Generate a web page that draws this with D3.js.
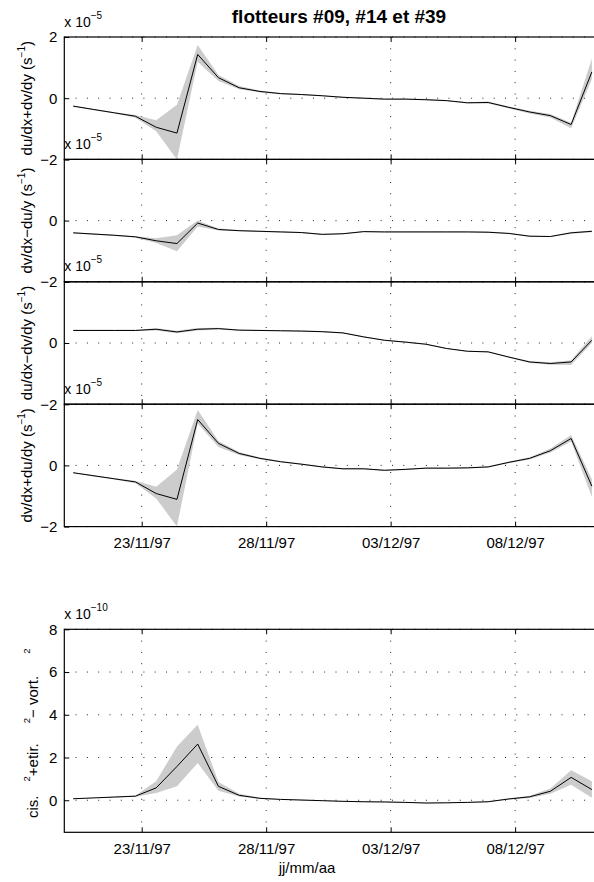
<!DOCTYPE html>
<html><head><meta charset="utf-8">
<script src="https://cdn.jsdelivr.net/npm/d3@7"></script>
<style>
body{margin:0;background:#fff}
svg{display:block}
text{font-family:"Liberation Sans",Arial,Helvetica,sans-serif;fill:#000}
</style>
</head><body>
<svg id="c" width="594" height="882"></svg>
<script>
// ---- data ----
const dates = ["1997-11-20T06:00Z","1997-11-21T02:00Z","1997-11-21T22:00Z","1997-11-22T18:00Z",
 "1997-11-23T14:00Z","1997-11-24T10:00Z","1997-11-25T06:00Z","1997-11-26T02:00Z","1997-11-26T22:00Z",
 "1997-11-27T18:00Z","1997-11-28T14:00Z","1997-11-29T10:00Z","1997-11-30T06:00Z","1997-12-01T02:00Z",
 "1997-12-01T22:00Z","1997-12-02T18:00Z","1997-12-03T14:00Z","1997-12-04T10:00Z","1997-12-05T06:00Z",
 "1997-12-06T02:00Z","1997-12-06T22:00Z","1997-12-07T18:00Z","1997-12-08T14:00Z","1997-12-09T10:00Z",
 "1997-12-10T06:00Z","1997-12-11T02:00Z"];
const xTickDates = ["1997-11-23T00:00Z","1997-11-28T00:00Z","1997-12-03T00:00Z","1997-12-08T00:00Z"];
const xDomainDates = ["1997-11-19T21:24Z","1997-12-11T23:20Z"];

// panel 1 : du/dx+dv/dy (x1e-5)
const divLine = [-0.26,-0.37,-0.48,-0.59,-0.95,-1.14,1.43,0.67,0.34,0.22,0.15,0.12,0.08,0.03,0.00,-0.03,-0.03,-0.05,-0.08,-0.15,-0.14,-0.30,-0.45,-0.57,-0.86,0.86];
const divLow  = [-0.28,-0.39,-0.50,-0.64,-1.08,-2.00,1.19,0.56,0.29,0.19,0.13,0.10,0.06,0.01,-0.02,-0.05,-0.05,-0.07,-0.10,-0.17,-0.17,-0.34,-0.50,-0.63,-0.98,0.62];
const divHigh = [-0.24,-0.35,-0.46,-0.55,-0.72,-0.21,1.74,0.76,0.40,0.25,0.17,0.14,0.10,0.05,0.02,-0.01,-0.01,-0.03,-0.06,-0.13,-0.11,-0.27,-0.41,-0.52,-0.80,1.30];
// panel 2 : dv/dx-du/y
const rotLine = [-0.40,-0.44,-0.48,-0.53,-0.66,-0.75,-0.08,-0.29,-0.33,-0.35,-0.37,-0.39,-0.45,-0.43,-0.36,-0.37,-0.37,-0.37,-0.37,-0.37,-0.38,-0.42,-0.51,-0.52,-0.40,-0.35];
const rotLow  = [-0.42,-0.46,-0.50,-0.56,-0.73,-1.00,-0.19,-0.32,-0.35,-0.37,-0.39,-0.41,-0.47,-0.45,-0.38,-0.39,-0.39,-0.39,-0.39,-0.39,-0.40,-0.44,-0.53,-0.54,-0.43,-0.38];
const rotHigh = [-0.38,-0.42,-0.46,-0.51,-0.58,-0.48,0.00,-0.26,-0.31,-0.33,-0.35,-0.37,-0.43,-0.41,-0.34,-0.35,-0.35,-0.35,-0.35,-0.35,-0.36,-0.40,-0.49,-0.50,-0.37,-0.32];
// panel 3 : du/dx-dv/dy
const strLine = [0.41,0.41,0.41,0.41,0.45,0.36,0.45,0.47,0.42,0.41,0.40,0.39,0.37,0.33,0.20,0.09,0.03,-0.04,-0.18,-0.27,-0.29,-0.46,-0.62,-0.67,-0.62,0.09];
const strLow  = [0.39,0.39,0.39,0.39,0.41,0.32,0.41,0.44,0.40,0.39,0.38,0.37,0.35,0.31,0.18,0.07,0.01,-0.06,-0.20,-0.29,-0.31,-0.48,-0.65,-0.71,-0.72,0.00];
const strHigh = [0.43,0.43,0.43,0.43,0.48,0.40,0.49,0.50,0.44,0.43,0.42,0.41,0.39,0.35,0.22,0.11,0.05,-0.02,-0.16,-0.25,-0.27,-0.44,-0.59,-0.63,-0.56,0.22];
// panel 4 : dv/dx+du/dy
const shrLine = [-0.24,-0.34,-0.44,-0.54,-0.92,-1.11,1.50,0.72,0.39,0.23,0.12,0.04,-0.05,-0.11,-0.11,-0.16,-0.13,-0.09,-0.09,-0.08,-0.05,0.10,0.23,0.48,0.88,-0.68];
const shrLow  = [-0.26,-0.36,-0.46,-0.58,-1.08,-2.00,1.37,0.60,0.34,0.20,0.10,0.02,-0.07,-0.13,-0.13,-0.18,-0.15,-0.11,-0.11,-0.10,-0.07,0.07,0.19,0.42,0.78,-1.03];
const shrHigh = [-0.22,-0.32,-0.42,-0.50,-0.70,-0.13,1.81,0.80,0.44,0.26,0.14,0.06,-0.03,-0.09,-0.09,-0.14,-0.11,-0.07,-0.07,-0.06,-0.03,0.13,0.27,0.55,0.99,-0.45];
// panel 5 : cis.^2 + etir.^2 - vort.^2 (x1e-10)
const owLine = [0.07,0.11,0.15,0.19,0.58,1.58,2.63,0.65,0.23,0.09,0.04,0.01,-0.02,-0.05,-0.07,-0.08,-0.10,-0.13,-0.12,-0.10,-0.07,0.06,0.16,0.42,1.07,0.50];
const owLow  = [0.06,0.10,0.13,0.16,0.34,0.65,1.74,0.45,0.17,0.06,0.02,-0.01,-0.04,-0.07,-0.09,-0.10,-0.12,-0.15,-0.14,-0.12,-0.09,0.03,0.11,0.30,0.73,0.12];
const owHigh = [0.08,0.12,0.17,0.22,0.89,2.52,3.53,0.85,0.30,0.12,0.06,0.03,0.00,-0.03,-0.05,-0.06,-0.08,-0.11,-0.10,-0.08,-0.05,0.09,0.21,0.55,1.40,0.89];

const topYDomain = [-2, 2];
const topYTicks = [-2, 0, 2];
const botYDomain = [-1.5, 8];
const botYTicks = [0, 2, 4, 6, 8];
const titleText = "flotteurs #09, #14 et #39";
const xLabelText = "jj/mm/aa";

// ---- drawing ----
const svg = d3.select("#c");
const X0 = 64.3, X1 = 614;
const FS = 15;
const FF = '"Liberation Sans",Arial,Helvetica,sans-serif';
const x = d3.scaleUtc().domain(xDomainDates.map(s => new Date(s))).range([X0, X1]);
const T = dates.map(s => new Date(s));
const xTicks = xTickDates.map(s => new Date(s));
const fmt = d3.utcFormat("%d/%m/%y");

const panels = [
  {top:37,    bot:159.4, dom:topYDomain, ticks:topYTicks, lbl:[-2,0,2], line:divLine, lo:divLow, hi:divHigh, xl:false, exp:"\u22125",
   ylab:"du/dx+dv/dy (s"},
  {top:159.4, bot:281.8, dom:topYDomain, ticks:topYTicks, lbl:[-2,0], line:rotLine, lo:rotLow, hi:rotHigh, xl:false, exp:"\u22125",
   ylab:"dv/dx\u2212du/y (s"},
  {top:281.8, bot:404.2, dom:topYDomain, ticks:topYTicks, lbl:[-2,0], line:strLine, lo:strLow, hi:strHigh, xl:false, exp:"\u22125",
   ylab:"du/dx\u2212dv/dy (s"},
  {top:404.2, bot:526.6, dom:topYDomain, ticks:topYTicks, lbl:[-2,0], line:shrLine, lo:shrLow, hi:shrHigh, xl:true, exp:"\u22125",
   ylab:"dv/dx+du/dy (s"},
  {top:629.3, bot:832.3, dom:botYDomain, ticks:botYTicks, lbl:botYTicks, line:owLine, lo:owLow, hi:owHigh, xl:true, exp:"\u221210", bottom:true}
];

panels.forEach((p, i) => {
  const y = d3.scaleLinear().domain(p.dom).range([p.bot, p.top]);
  const g = svg.append("g");
  const cid = "clip" + i;
  svg.append("clipPath").attr("id", cid).append("rect")
    .attr("x", X0).attr("y", p.top).attr("width", X1 - X0).attr("height", p.bot - p.top);

  // grid
  const grid = g.append("g").attr("stroke", "#222").attr("stroke-width", 1).attr("stroke-dasharray", "1,10.3");
  xTicks.forEach(d => grid.append("line").attr("x1", x(d)).attr("x2", x(d)).attr("y1", p.top).attr("y2", p.bot));
  p.ticks.forEach(v => grid.append("line").attr("x1", X0).attr("x2", X1).attr("y1", y(v)).attr("y2", y(v)));

  // band + line
  const dg = g.append("g").attr("clip-path", `url(#${cid})`);
  const idx = d3.range(T.length);
  dg.append("path").attr("fill", "#cccccc")
    .attr("d", d3.area().x(k => x(T[k])).y0(k => y(p.lo[k])).y1(k => y(p.hi[k]))(idx));
  dg.append("path").attr("fill", "none").attr("stroke", "#000").attr("stroke-width", 1)
    .attr("d", d3.line().x(k => x(T[k])).y(k => y(p.line[k]))(idx));

  // axes
  const left = g.append("g").attr("transform", `translate(${X0},0)`)
    .call(d3.axisLeft(y).tickValues(p.ticks).tickSize(-5).tickPadding(7)
      .tickFormat(v => p.lbl.includes(v) ? String(v).replace("-", "\u2212") : ""));
  const bot = g.append("g").attr("transform", `translate(0,${p.bot})`)
    .call(d3.axisBottom(x).tickValues(xTicks).tickSize(-5).tickPadding(11)
      .tickFormat(d => p.xl ? fmt(d) : ""));
  const topA = g.append("g").attr("transform", `translate(0,${p.top})`)
    .call(d3.axisTop(x).tickValues(xTicks).tickSize(-5).tickFormat(() => ""));
  [left, bot, topA].forEach(a => {
    a.attr("font-size", FS).attr("font-family", FF);
    a.select(".domain").remove();
    a.selectAll("text").attr("fill", "#000");
    a.selectAll("line").attr("stroke", "#000");
  });

  // frame
  g.append("rect").attr("x", X0).attr("y", p.top).attr("width", X1 - X0).attr("height", p.bot - p.top)
    .attr("fill", "none").attr("stroke", "#000").attr("stroke-width", 1.2);

  // exponent label
  const e = svg.append("text").attr("x", X0).attr("y", p.top - 10.5).attr("font-size", 14);
  e.append("tspan").text("x 10");
  e.append("tspan").attr("dy", -8).attr("font-size", 10).text(p.exp);

  // y label
  const cy = (p.top + p.bot) / 2;
  if (!p.bottom) {
    const t = svg.append("text").attr("transform", `translate(31.5,${cy}) rotate(-90)`)
      .attr("text-anchor", "middle").attr("font-size", FS);
    t.append("tspan").text(p.ylab);
    t.append("tspan").attr("dy", -7).attr("font-size", 10).text("\u22121");
    t.append("tspan").attr("dy", 7).text(")");
  } else {
    const t = svg.append("text").attr("transform", `translate(38.3,818) rotate(-90)`)
      .attr("font-size", FS);
    t.append("tspan").text("cis.");
    t.append("tspan").attr("dx", 14).attr("dy", -8).attr("font-size", 9.5).text("2");
    t.append("tspan").attr("dy", 8).text("+etir.");
    t.append("tspan").attr("dx", 20).attr("dy", -8).attr("font-size", 9.5).text("2");
    t.append("tspan").attr("dy", 8).text("\u2212 vort.");
    t.append("tspan").attr("dx", 22).attr("dy", -8).attr("font-size", 9.5).text("2");
  }
});

svg.append("text").attr("x", 339).attr("y", 23).attr("text-anchor", "middle")
  .attr("font-size", 19).attr("font-weight", "bold").text(titleText);
svg.append("text").attr("x", 307).attr("y", 873).attr("text-anchor", "middle")
  .attr("font-size", FS).text(xLabelText);
</script>
</body></html>
